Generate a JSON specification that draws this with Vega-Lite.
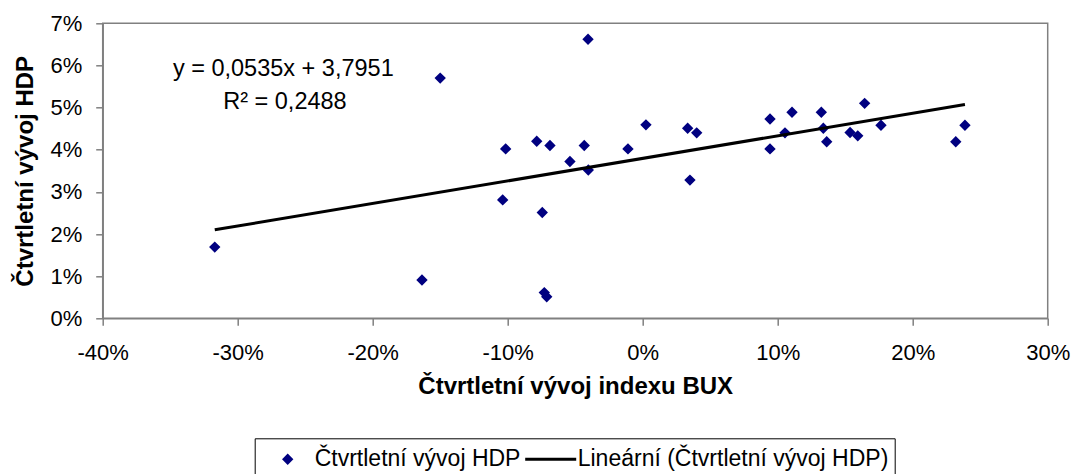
{
  "$schema": "https://vega.github.io/schema/vega-lite/v6.json",
  "width": 945,
  "height": 295,
  "autosize": {"type": "none"},
  "padding": {"left": 102.7, "top": 23.3, "right": 25.3, "bottom": 155.7},
  "background": "white",
  "config": {
    "font": "Liberation Sans",
    "view": {"stroke": "#808080", "strokeWidth": 1.5}
  },
  "datasets": {
    "points": [
      {"bux": -31.7, "hdp": 1.69, "series": "Čtvrtletní vývoj HDP"},
      {"bux": -16.35, "hdp": 0.91, "series": "Čtvrtletní vývoj HDP"},
      {"bux": -15.0, "hdp": 5.70, "series": "Čtvrtletní vývoj HDP"},
      {"bux": -10.15, "hdp": 4.02, "series": "Čtvrtletní vývoj HDP"},
      {"bux": -10.37, "hdp": 2.81, "series": "Čtvrtletní vývoj HDP"},
      {"bux": -7.85, "hdp": 4.20, "series": "Čtvrtletní vývoj HDP"},
      {"bux": -6.87, "hdp": 4.10, "series": "Čtvrtletní vývoj HDP"},
      {"bux": -7.44, "hdp": 2.51, "series": "Čtvrtletní vývoj HDP"},
      {"bux": -7.29, "hdp": 0.61, "series": "Čtvrtletní vývoj HDP"},
      {"bux": -7.11, "hdp": 0.51, "series": "Čtvrtletní vývoj HDP"},
      {"bux": -5.39, "hdp": 3.72, "series": "Čtvrtletní vývoj HDP"},
      {"bux": -4.05, "hdp": 6.62, "series": "Čtvrtletní vývoj HDP"},
      {"bux": -4.33, "hdp": 4.10, "series": "Čtvrtletní vývoj HDP"},
      {"bux": -4.03, "hdp": 3.52, "series": "Čtvrtletní vývoj HDP"},
      {"bux": -1.09, "hdp": 4.02, "series": "Čtvrtletní vývoj HDP"},
      {"bux": 0.24, "hdp": 4.59, "series": "Čtvrtletní vývoj HDP"},
      {"bux": 3.33, "hdp": 4.51, "series": "Čtvrtletní vývoj HDP"},
      {"bux": 4.0, "hdp": 4.40, "series": "Čtvrtletní vývoj HDP"},
      {"bux": 3.5, "hdp": 3.28, "series": "Čtvrtletní vývoj HDP"},
      {"bux": 9.43, "hdp": 4.73, "series": "Čtvrtletní vývoj HDP"},
      {"bux": 9.43, "hdp": 4.02, "series": "Čtvrtletní vývoj HDP"},
      {"bux": 10.54, "hdp": 4.40, "series": "Čtvrtletní vývoj HDP"},
      {"bux": 11.06, "hdp": 4.89, "series": "Čtvrtletní vývoj HDP"},
      {"bux": 13.23, "hdp": 4.89, "series": "Čtvrtletní vývoj HDP"},
      {"bux": 13.38, "hdp": 4.51, "series": "Čtvrtletní vývoj HDP"},
      {"bux": 13.63, "hdp": 4.19, "series": "Čtvrtletní vývoj HDP"},
      {"bux": 15.36, "hdp": 4.41, "series": "Čtvrtletní vývoj HDP"},
      {"bux": 15.93, "hdp": 4.33, "series": "Čtvrtletní vývoj HDP"},
      {"bux": 16.44, "hdp": 5.10, "series": "Čtvrtletní vývoj HDP"},
      {"bux": 17.65, "hdp": 4.58, "series": "Čtvrtletní vývoj HDP"},
      {"bux": 23.19, "hdp": 4.19, "series": "Čtvrtletní vývoj HDP"},
      {"bux": 23.87, "hdp": 4.58, "series": "Čtvrtletní vývoj HDP"}
    ],
    "trend": [
      {"bux": -31.7, "hdp": 2.099},
      {"bux": 23.87, "hdp": 5.072}
    ]
  },
  "layer": [
    {
      "data": {"name": "points"},
      "mark": {"type": "point", "filled": true, "fill": "#000080", "strokeWidth": 3, "size": 2601, "opacity": 1},
      "encoding": {
        "x": {
          "field": "bux", "type": "quantitative",
          "scale": {"domain": [-40, 30], "nice": false, "zero": false},
          "axis": {
            "values": [-40, -30, -20, -10, 0, 10, 20, 30],
            "labelExpr": "datum.value + '%'",
            "title": "Čtvrtletní vývoj indexu BUX",
            "titleFontSize": 24, "titleFontWeight": "bold", "titleColor": "#000",
            "titleBaseline": "alphabetic", "titleY": 75,
            "labelFontSize": 22, "labelColor": "#000", "labelBaseline": "alphabetic",
            "labelPadding": 34, "labelFlush": false, "labelOverlap": false,
            "tickSize": 7, "tickColor": "#808080", "tickWidth": 1.5,
            "domainColor": "#808080", "domainWidth": 1.5, "grid": false
          }
        },
        "y": {
          "field": "hdp", "type": "quantitative",
          "scale": {"domain": [0, 7], "nice": false, "zero": false},
          "axis": {
            "values": [0, 1, 2, 3, 4, 5, 6, 7],
            "labelExpr": "datum.value + '%'",
            "title": "Čtvrtletní vývoj HDP",
            "titleFontSize": 24, "titleFontWeight": "bold", "titleColor": "#000",
            "titleAngle": 270, "titleBaseline": "middle", "titleAlign": "center",
            "titleX": -77.7,
            "labelFontSize": 22, "labelColor": "#000", "labelPadding": 14,
            "labelFlush": false, "labelOverlap": false,
            "tickSize": 7, "tickColor": "#808080", "tickWidth": 1.5,
            "domainColor": "#808080", "domainWidth": 1.5, "grid": false
          }
        },
        "shape": {
          "field": "series", "type": "nominal",
          "scale": {
            "domain": ["Čtvrtletní vývoj HDP", "Lineární (Čtvrtletní vývoj HDP)"],
            "range": ["M-0.14,0L0,-0.14L0.14,0L0,0.14Z", "stroke"]
          },
          "legend": {
            "orient": "none", "legendX": 152, "legendY": 415,
            "direction": "horizontal", "columns": 2, "title": null,
            "symbolSize": 2601, "symbolStrokeWidth": 3, "symbolOpacity": 1,
            "labelFontSize": 23, "labelColor": "#000", "labelOffset": 0, "labelLimit": 400,
            "columnPadding": 3, "padding": 6, "clipHeight": 30,
            "strokeColor": "#000", "fillColor": "#fff"
          }
        },
        "stroke": {
          "field": "series", "type": "nominal",
          "scale": {
            "domain": ["Čtvrtletní vývoj HDP", "Lineární (Čtvrtletní vývoj HDP)"],
            "range": ["#000080", "#000000"]
          },
          "legend": {
            "orient": "none", "legendX": 152, "legendY": 415,
            "direction": "horizontal", "columns": 2, "title": null,
            "symbolSize": 2601, "symbolStrokeWidth": 3, "symbolOpacity": 1,
            "labelFontSize": 23, "labelColor": "#000", "labelOffset": 0, "labelLimit": 400,
            "columnPadding": 3, "padding": 6, "clipHeight": 30,
            "strokeColor": "#000", "fillColor": "#fff"
          }
        }
      }
    },
    {
      "data": {"name": "trend"},
      "mark": {"type": "line", "strokeWidth": 3, "color": "#000000"},
      "encoding": {
        "x": {"field": "bux", "type": "quantitative"},
        "y": {"field": "hdp", "type": "quantitative"}
      }
    },
    {
      "data": {"values": [{}]},
      "mark": {"type": "text", "text": "y = 0,0535x + 3,7951", "fontSize": 23.5, "align": "center", "baseline": "alphabetic", "color": "#000"},
      "encoding": {
        "x": {"datum": -26.62, "type": "quantitative"},
        "y": {"datum": 5.75, "type": "quantitative"}
      }
    },
    {
      "data": {"values": [{}]},
      "mark": {"type": "text", "text": "R² = 0,2488", "fontSize": 23.5, "align": "center", "baseline": "alphabetic", "color": "#000"},
      "encoding": {
        "x": {"datum": -26.5, "type": "quantitative"},
        "y": {"datum": 4.96, "type": "quantitative"}
      }
    }
  ]
}
